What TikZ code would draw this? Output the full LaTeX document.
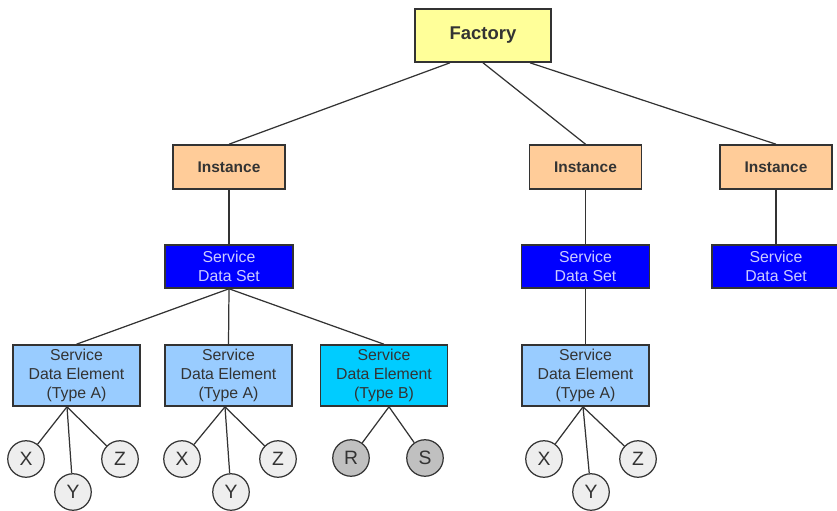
\documentclass[tikz,border=0pt]{standalone}
\usepackage{fontspec}
\setmainfont{Liberation Sans}
\definecolor{factoryfill}{HTML}{FFFF99}
\definecolor{instfill}{HTML}{FFCC99}
\definecolor{setfill}{HTML}{0000FF}
\definecolor{settext}{HTML}{CCCCFF}
\definecolor{elemA}{HTML}{99CCFF}
\definecolor{elemB}{HTML}{00CCFF}
\definecolor{leafA}{HTML}{EEEEEE}
\definecolor{leafB}{HTML}{C0C0C0}
\definecolor{ink}{HTML}{333333}

\tikzset{
  box/.style={draw=ink,line width=0.9pt,inner sep=0pt,align=center,text=ink},
  factorybox/.style={box,fill=factoryfill,minimum width=2.72cm,minimum height=1.06cm,
    font=\fontsize{10.5}{12}\selectfont\bfseries},
  instbox/.style={box,fill=instfill,minimum width=2.24cm,minimum height=0.88cm,
    font=\fontsize{8.8}{10}\selectfont\bfseries},
  setbox/.style={box,fill=setfill,text=settext,minimum width=2.56cm,minimum height=0.86cm,
    font=\fontsize{9}{10.6}\selectfont},
  elembox/.style={box,minimum width=2.54cm,minimum height=1.22cm,
    font=\fontsize{9}{11}\selectfont},
  leaf/.style={circle,draw=ink,line width=0.7pt,minimum size=0.73cm,inner sep=0pt,
    text=ink,font=\fontsize{11}{12}\selectfont},
  link/.style={draw=ink,line width=0.7pt},
}

\begin{document}
\begin{tikzpicture}[x=0.02cm,y=-0.02cm]
  \useasboundingbox (0,0) rectangle (837,510);

  % top of the tree
  \node[factorybox] (factory) at (483,35.5) {Factory};

  \node[instbox] (inst1) at (229,167) {Instance};
  \node[instbox] (inst2) at (585.5,167) {Instance};
  \node[instbox] (inst3) at (776,167) {Instance};

  \node[setbox] (set1) at (229,266.5) {Service\\Data Set};
  \node[setbox] (set2) at (585.5,266.5) {Service\\Data Set};
  \node[setbox] (set3) at (776,266.5) {Service\\Data Set};

  % data elements
  \node[elembox,fill=elemA] (elem1) at (76.5,375.5) {Service\\Data Element\\(Type A)};
  \node[elembox,fill=elemA] (elem2) at (228.5,375.5) {Service\\Data Element\\(Type A)};
  \node[elembox,fill=elemB] (elem3) at (384,375.5) {Service\\Data Element\\(Type B)};
  \node[elembox,fill=elemA] (elem4) at (585.5,375.5) {Service\\Data Element\\(Type A)};

  % leaves
  \node[leaf,fill=leafA] (x1) at (26,459) {X};
  \node[leaf,fill=leafA] (y1) at (73,492) {Y};
  \node[leaf,fill=leafA] (z1) at (120,459) {Z};
  \node[leaf,fill=leafA] (x2) at (182,459) {X};
  \node[leaf,fill=leafA] (y2) at (231,492) {Y};
  \node[leaf,fill=leafA] (z2) at (278,459) {Z};
  \node[leaf,fill=leafB] (r3) at (351,458) {R};
  \node[leaf,fill=leafB] (s3) at (425,458) {S};
  \node[leaf,fill=leafA] (x4) at (544,459) {X};
  \node[leaf,fill=leafA] (y4) at (591,492) {Y};
  \node[leaf,fill=leafA] (z4) at (638,459) {Z};

  % connectors
  \draw[link] ([xshift=-0.66cm]factory.south) -- (inst1.north);
  \draw[link] (factory.south) -- (inst2.north);
  \draw[link] ([xshift=0.94cm]factory.south) -- (inst3.north);

  \draw[link] (inst1) -- (set1);
  \draw[link] (inst2) -- (set2);
  \draw[link] (inst3) -- (set3);

  \draw[link] (set1.south) -- (elem1.north);
  \draw[link] (set1.south) -- (elem2.north);
  \draw[link] (set1.south) -- (elem3.north);
  \draw[link] (set2) -- (elem4);

  \foreach \e/\dx/\kids in {elem1/-0.19/{x1,y1,z1},elem2/-0.07/{x2,y2,z2},
                            elem3/0.1/{r3,s3},elem4/-0.05/{x4,y4,z4}}
    \foreach \k in \kids
      \draw[link] ([xshift=\dx cm]\e.south) -- (\k);
\end{tikzpicture}
\end{document}
